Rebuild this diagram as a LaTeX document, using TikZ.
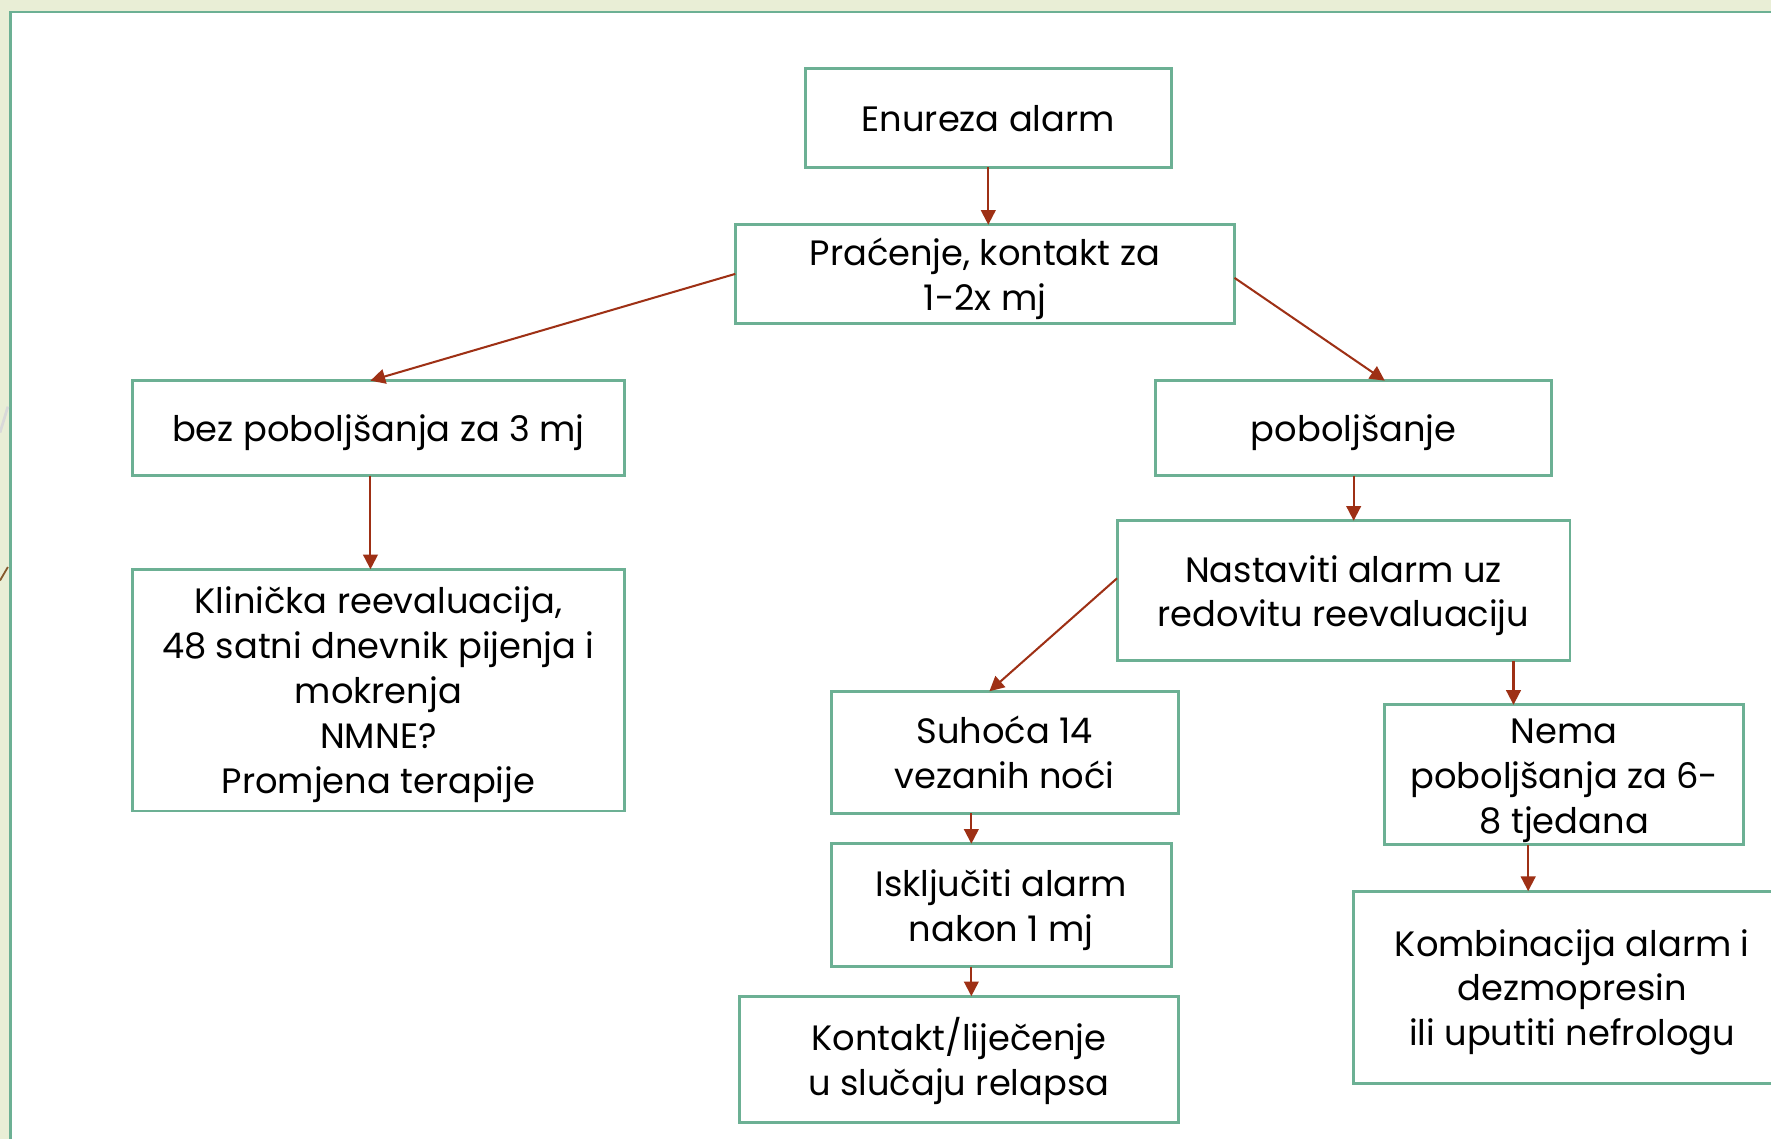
\documentclass[tikz,border=0pt]{standalone}
\usepackage{fontspec}
\setmainfont{Poppins}
\usetikzlibrary{arrows.meta,calc}
\definecolor{bggreen}{RGB}{233,238,214}
\definecolor{boxgreen}{RGB}{108,176,148}
\definecolor{arrred}{RGB}{158,48,21}
\newcommand\lstrut{\rule[-5pt]{0pt}{22.2pt}}
\newcommand\boxfontsel{\fontsize{15.6}{19.9}\selectfont\lineskiplimit=-100pt\relax}
\tikzset{
  box/.style={draw=boxgreen, line width=1.3pt, fill=white, rectangle, inner sep=0pt, outer sep=0pt,
    align=center, font=\boxfontsel},
  conn/.style={draw=arrred, line width=0.9pt, -{Triangle[length=6.5pt,width=6.5pt]}},
}
\begin{document}
\begin{tikzpicture}[x=0.5pt,y=-0.5pt]
\useasboundingbox (0,0) rectangle (1568,1008);
\fill[bggreen] (0,0) rectangle (1568,1008);
\draw[boxgreen, line width=1.3pt, fill=white] (9.3,1030) -- (9.3,10.6) -- (1600,10.6) -- (1600,1030) -- cycle;
\draw[gray!30, line width=1.2pt] (0,383) -- (7,360);
\draw[brown!70!black, line width=0.8pt] (0,514) -- (7,502);
\begin{scope}
\clip (0,0) rectangle (1568,1008);
\node[box, minimum width=162pt, minimum height=43.5pt] (b1) at (875,104.5) {\lstrut Enureza alarm};
\node[box, minimum width=221pt, minimum height=43.5pt] (b2) at (872,242.5) {\lstrut Praćenje, kontakt za\\\lstrut 1-2x mj};
\node[box, minimum width=218pt, minimum height=42pt] (b3) at (335,379) {\lstrut bez poboljšanja za 3 mj};
\node[box, minimum width=175.5pt, minimum height=42pt] (b4) at (1198.5,379) {\lstrut poboljšanje};
\node[box, minimum width=218pt, minimum height=107pt] (b5) at (335,611) {\lstrut Klinička reevaluacija,\\\lstrut 48 satni dnevnik pijenja i\\\lstrut mokrenja\\\lstrut NMNE?\\\lstrut Promjena terapije};
\node[box, minimum width=200.5pt, minimum height=62pt] (b6) at (1189.5,523) {\lstrut Nastaviti alarm uz\\\lstrut redovitu reevaluaciju};
\node[box, minimum width=153.5pt, minimum height=54pt] (b7) at (889.5,666) {\lstrut Suhoća 14\\\lstrut vezanih noći};
\node[box, minimum width=159pt, minimum height=61pt] (b8) at (1385,686) {\lstrut Nema\\\lstrut poboljšanja za 6-\\\lstrut 8 tjedana};
\node[box, minimum width=150.5pt, minimum height=54.5pt] (b9) at (886.5,801.5) {\lstrut Isključiti alarm\\\lstrut nakon 1 mj};
\node[box, minimum width=194pt, minimum height=56pt] (b10) at (849,938) {\lstrut Kontakt/liječenje\\\lstrut u slučaju relapsa};
\node[box, minimum width=194pt, minimum height=85pt] (b11) at (1392,874) {\lstrut Kombinacija alarm i\\\lstrut dezmopresin\\\lstrut ili uputiti nefrologu};
\end{scope}
\draw[conn] (b1.south) -- (b1.south |- b2.north);
\draw[conn] (b2.west) -- ([xshift=-3.5pt]b3.north);
\draw[conn] ([yshift=-1.75pt]b2.east) -- ([xshift=13.75pt]b4.north);
\draw[conn] ([xshift=-3.5pt]b3.south) -- ([xshift=-3.5pt]b5.north);
\draw[conn] (b4.south) -- (b4.south |- b6.north);
\draw[conn] ([yshift=5.5pt]b6.west) -- ([xshift=-6.75pt]b7.north);
\draw[conn] ([xshift=-22.5pt]b8.north |- b6.south) -- ([xshift=-22.5pt]b8.north);
\draw[conn] ([xshift=-14.75pt]b7.south) -- ([xshift=-14.75pt]b7.south |- b9.north);
\draw[conn] ([xshift=-13.25pt]b9.south) -- ([xshift=-13.25pt]b9.south |- b10.north);
\draw[conn] ([xshift=-16pt]b8.south) -- ([xshift=-16pt]b8.south |- b11.north);
\end{tikzpicture}
\end{document}
